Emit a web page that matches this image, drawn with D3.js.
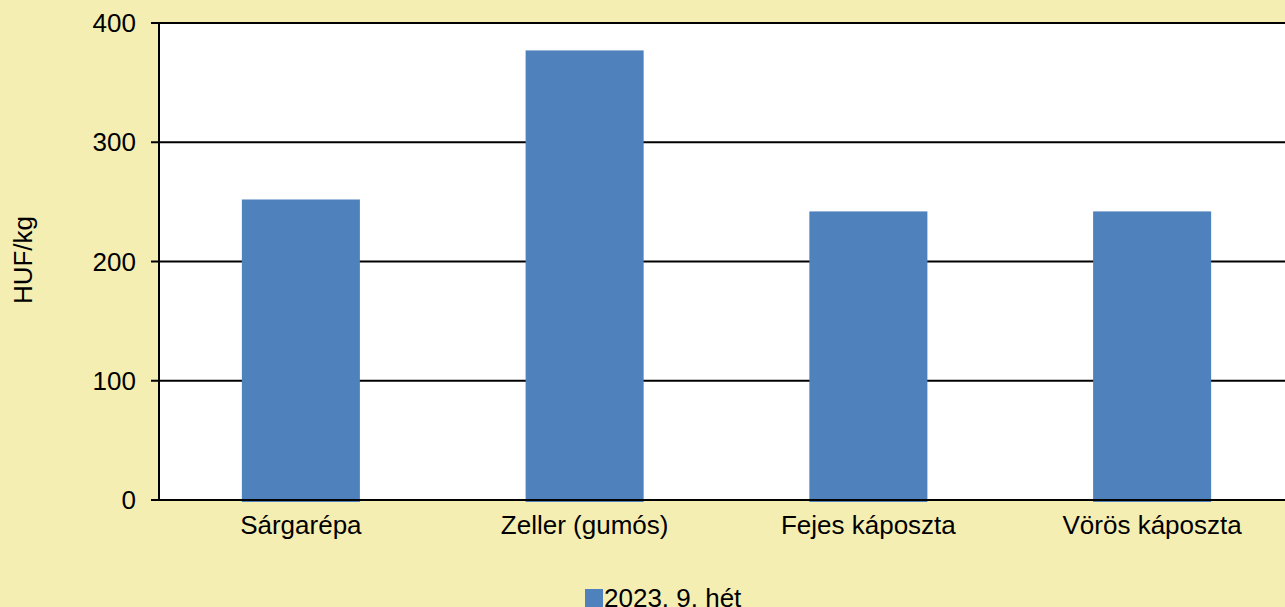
<!DOCTYPE html>
<html>
<head>
<meta charset="utf-8">
<script src="https://cdn.jsdelivr.net/npm/d3@7"></script>
<style>
  html, body { margin: 0; padding: 0; background: #f5eeb3; overflow: hidden; }
  svg { display: block; font-family: "Liberation Sans", Arial, sans-serif; }
</style>
</head>
<body>
<svg id="chart" width="1285" height="607"></svg>
<script>
// ── Data ──
const categories = ['Sárgarépa', 'Zeller (gumós)', 'Fejes káposzta', 'Vörös káposzta'];
const values = [252, 377, 242, 242];
const yTicks = [0, 100, 200, 300, 400];
const seriesName = '2023. 9. hét';

const W = 1285, H = 607;
// plot area runs a bit past the right edge of the picture
const plotRight = 1294;
const margin = { top: 23, bottom: 107, left: 159 };
const barColor = '#4f81bd';
const fontSize = '26px';

const svg = d3.select('#chart');
svg.append('rect').attr('width', W).attr('height', H).attr('fill', '#f5eeb3');

const x = d3.scaleBand()
  .domain(categories)
  .range([margin.left, plotRight])
  .paddingInner(0.584).paddingOuter(0.292);

const y = d3.scaleLinear()
  .domain([0, 400])
  .range([H - margin.bottom, margin.top]);

// Plot area
svg.append('rect')
  .attr('x', margin.left).attr('y', margin.top)
  .attr('width', plotRight - margin.left)
  .attr('height', y(0) - margin.top)
  .attr('fill', '#ffffff');

// Gridlines
svg.append('g')
  .selectAll('line').data(yTicks).join('line')
  .attr('x1', margin.left - 8).attr('x2', plotRight)
  .attr('y1', d => y(d)).attr('y2', d => y(d))
  .attr('stroke', '#000').attr('stroke-width', 2);

// Bars
svg.append('g')
  .selectAll('rect').data(values).join('rect')
  .attr('x', (d, i) => x(categories[i]))
  .attr('y', d => y(d))
  .attr('width', x.bandwidth())
  .attr('height', d => y(0) - y(d) + 2)
  .attr('fill', barColor);

// Zero line over bars
svg.append('line')
  .attr('x1', margin.left - 8).attr('x2', plotRight)
  .attr('y1', y(0)).attr('y2', y(0))
  .attr('stroke', '#000').attr('stroke-width', 2);

// Y axis line
svg.append('line')
  .attr('x1', margin.left).attr('x2', margin.left)
  .attr('y1', margin.top - 1).attr('y2', y(0) + 1)
  .attr('stroke', '#000').attr('stroke-width', 2);

// Y tick labels
svg.append('g')
  .selectAll('text').data(yTicks).join('text')
  .attr('x', 136).attr('y', d => y(d))
  .attr('text-anchor', 'end').attr('dominant-baseline', 'central')
  .attr('font-size', fontSize).attr('fill', '#000')
  .text(d => d);

// X labels
svg.append('g')
  .selectAll('text').data(categories).join('text')
  .attr('x', d => x(d) + x.bandwidth() / 2).attr('y', 525)
  .attr('text-anchor', 'middle').attr('dominant-baseline', 'central')
  .attr('font-size', fontSize).attr('fill', '#000')
  .text(d => d);

// Y axis title
svg.append('text')
  .attr('transform', 'translate(23,260) rotate(-90)')
  .attr('text-anchor', 'middle').attr('dominant-baseline', 'central')
  .attr('font-size', fontSize).attr('fill', '#000')
  .text('HUF/kg');

// Legend (partly cut by the bottom edge, as in the source)
const legend = svg.append('g').attr('transform', 'translate(585,589)');
legend.append('rect').attr('x', 0).attr('y', 0).attr('width', 18).attr('height', 18).attr('fill', barColor);
legend.append('text')
  .attr('x', 19).attr('y', 9)
  .attr('dominant-baseline', 'central')
  .attr('font-size', fontSize).attr('fill', '#000')
  .text(seriesName);
</script>
</body>
</html>
